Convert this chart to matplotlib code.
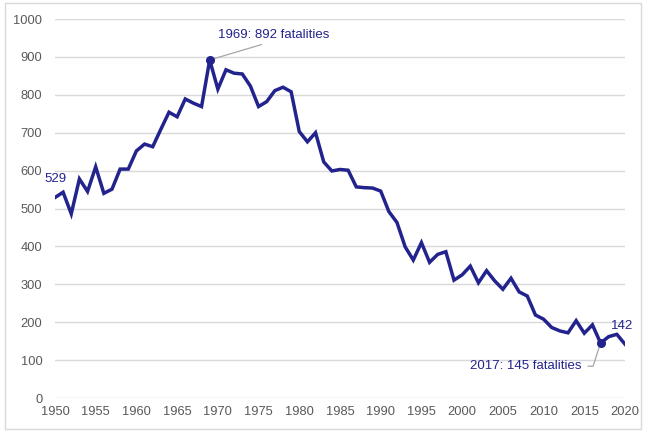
import matplotlib
matplotlib.use("Agg")
import matplotlib.pyplot as plt
from matplotlib.patches import Rectangle

years = list(range(1950, 2021))
fatalities = [529, 543, 486, 578, 545, 610, 540, 551, 604, 604,
              652, 670, 663, 709, 754, 742, 789, 778, 769, 892,
              815, 866, 857, 855, 823, 769, 782, 811, 820, 808,
              703, 676, 700, 623, 599, 603, 601, 557, 555, 554,
              546, 492, 463, 399, 364, 410, 358, 379, 386, 311,
              325, 348, 304, 336, 309, 287, 316, 280, 269, 219,
              208, 186, 177, 172, 204, 171, 193, 145, 162, 168,
              142]
y_ticks = [0, 100, 200, 300, 400, 500, 600, 700, 800, 900, 1000]
x_ticks = list(range(1950, 2021, 5))

navy = "#23238e"
grey_txt = "#595959"
plt.rcParams['font.family'] = ['Liberation Sans', 'DejaVu Sans']

fig = plt.figure(figsize=(6.46, 4.33), dpi=100)
fig.patches.append(Rectangle((0.007, 0.01), 0.986, 0.982, transform=fig.transFigure,
                             fill=False, edgecolor="#d9d9d9", linewidth=1.0))
ax = fig.add_axes([0.0851, 0.0808, 0.8824, 0.8753])

ax.plot(years, fatalities, color=navy, linewidth=2.5, solid_joinstyle="miter", zorder=3)
ax.set_xlim(1950, 2020)
ax.set_ylim(0, 1000)
ax.set_xticks(x_ticks)
ax.set_yticks(y_ticks)
ax.tick_params(length=0, labelsize=9.3, colors=grey_txt)
ax.tick_params(axis="y", pad=9)
ax.tick_params(axis="x", pad=6)
ax.grid(axis="y", color="#d9d9d9", linewidth=1.0)
for s in ax.spines.values():
    s.set_visible(False)
ax.set_axisbelow(True)

# highlighted points
i69 = years.index(1969)
i17 = years.index(2017)
ax.plot([years[i69], years[i17]], [fatalities[i69], fatalities[i17]], "o",
        color=navy, markersize=5.5, zorder=4)

ax.annotate(f"1969: {fatalities[i69]} fatalities", xy=(years[i69], fatalities[i69]),
            xytext=(1970.0, 942), color=navy, fontsize=9.5, va="bottom", ha="left",
            arrowprops=dict(arrowstyle="-", color="#a6a6a6", lw=0.9,
                            shrinkA=2, shrinkB=2, relpos=(0.5, 0)))
ax.annotate(f"2017: {fatalities[i17]} fatalities", xy=(years[i17], fatalities[i17]),
            xytext=(2014.6, 84), color=navy, fontsize=9.5, va="center", ha="right",
            arrowprops=dict(arrowstyle="-", color="#a6a6a6", lw=0.9,
                            shrinkA=3, shrinkB=2, relpos=(1.0, 0.5),
                            connectionstyle="angle,angleA=0,angleB=72,rad=0"))
ax.annotate(str(fatalities[0]), xy=(years[0], fatalities[0]), xytext=(0, 9),
            textcoords="offset points", color=navy, fontsize=9.5, ha="center", va="bottom",
            annotation_clip=False)
ax.annotate(str(fatalities[-1]), xy=(years[-1], fatalities[-1]), xytext=(-2, 9),
            textcoords="offset points", color=navy, fontsize=9.5, ha="center", va="bottom",
            annotation_clip=False)

fig.savefig("out.png", dpi=100)
